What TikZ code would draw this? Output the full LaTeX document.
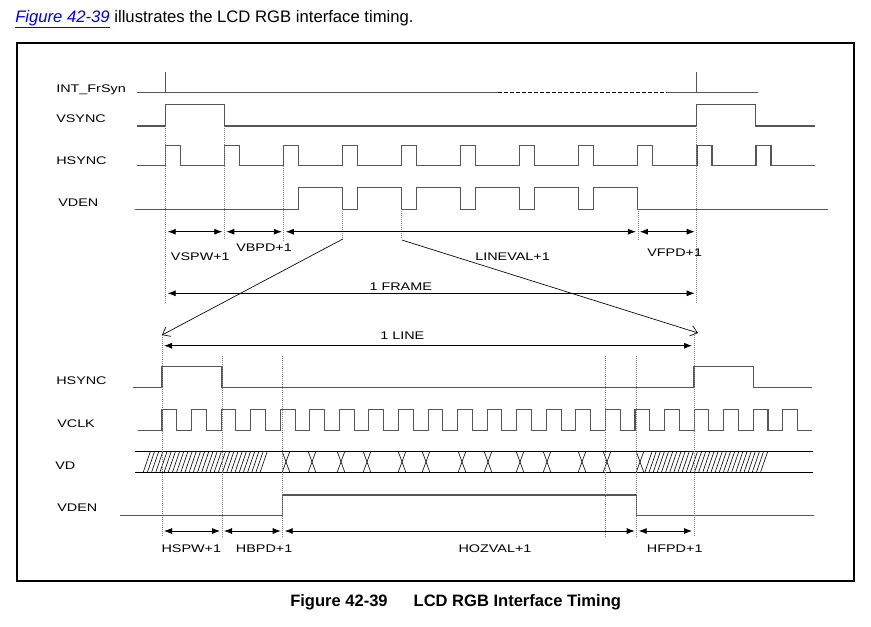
\documentclass[tikz,border=0pt]{standalone}
\usepackage{fontspec}
\setmainfont{Liberation Sans}
\newfontfamily\sigfont[FakeStretch=1.3]{Liberation Sans}
\usetikzlibrary{arrows.meta}
\definecolor{wavegray}{RGB}{85,85,85}
\definecolor{linkblue}{RGB}{0,0,238}
\begin{document}
\begin{tikzpicture}[x=0.75pt,y=-0.75pt,
  wave/.style = {draw=wavegray, line width=0.8pt},
  tick/.style = {draw=gray, densely dotted, line width=0.5pt},
  hatch/.style = {draw=black, line width=0.45pt},
  dimarrow/.style = {{Latex[length=6pt,width=4.5pt]}-{Latex[length=6pt,width=4.5pt]}, line width=0.6pt, shorten <=1.5pt, shorten >=1.5pt},
  fanarrow/.style = {-{Straight Barb[length=5pt,width=8pt]}, line width=0.5pt},
  siglabel/.style = {anchor=base west, inner sep=0pt, font=\sigfont\fontsize{8.3pt}{10pt}\selectfont}]
\useasboundingbox (0,0) rectangle (871,626);
\node [anchor=base west, inner sep=0pt, font=\fontsize{12.5pt}{15pt}\selectfont] (intro) at (15,22)
  {\textcolor{linkblue}{\underline{\textit{Figure 42-39}}} illustrates the LCD RGB interface timing.};
\draw [line width=1.5pt] (17,43) rectangle (854,581);

% frame timing
\node [siglabel] (frsyn) at (56,92.3) {INT\_FrSyn};
\node [siglabel] (vsync) at (56,122.3) {VSYNC};
\node [siglabel] (hsynctop) at (56,164.3) {HSYNC};
\node [siglabel] (vdentop) at (58,206.7) {VDEN};

\draw [wave] (136.7,92.7) -- (498,92.7);
\draw [wave, draw=black, line width=1pt, dash pattern=on 3pt off 1.5pt] (498,92.7) -- (667,92.7);
\draw [wave] (667,92.7) -- (758,92.7);
\draw [wave] (165.7,92.7) -- (165.7,72);
\draw [wave] (696.7,92.7) -- (696.7,72);

\draw [wave] (136.7,126) -| (165.7,104.3) -| (224.3,126) -| (696.7,104.3) -| (755.7,126) -- (815,126);

\draw [wave] (136.7,165.7) foreach \k in {0,...,10}{
  -- ({165.7+59.03*\k},165.7) -- ++(0,-20) -- ++(15,0) -- ++(0,20)} -- (815,165.7);

\draw [wave] (134.7,209.3) -- (298.8,209.3) -- (298.8,187.3) foreach \k in {3,...,7}{
  -- ({165.7+59.03*\k},187.3) -- ++(0,22) -- ++(15,0) -- ++(0,-22)} -- (637.9,187.3) -- (637.9,209.3) -- (827.7,209.3);

\draw [tick] (165.7,126) -- (165.7,303);
\draw [tick] (224.3,126) -- (224.3,240);
\draw [tick] (283.8,165.7) -- (283.8,240);
\draw [tick] (342.8,209.3) -- (342.8,239);
\draw [tick] (401.8,209.3) -- (401.8,239);
\draw [tick] (637.9,209.3) -- (637.9,240);
\draw [tick] (696.7,126) -- (696.7,303);

\foreach \n/\x in {0/165.7,1/224.3,2/283.8,3/637.9,4/696.7}
  \coordinate (fr\n) at (\x,231.7);
\draw [dimarrow] (fr0) -- (fr1);
\draw [dimarrow] (fr1) -- (fr2);
\draw [dimarrow] (fr2) -- (fr3);
\draw [dimarrow] (fr3) -- (fr4);
\node [siglabel] (vspw) at (170.7,260) {VSPW+1};
\node [siglabel] (vbpd) at (236,251.7) {VBPD+1};
\node [siglabel] (lineval) at (475,260) {LINEVAL+1};
\node [siglabel] (vfpd) at (647,256) {VFPD+1};

\coordinate (frameL) at (165.7,293.3);
\coordinate (frameR) at (696.7,293.3);
\draw [dimarrow] (frameL) -- (frameR);
\node [siglabel] (frame) at (369.3,290) {1 FRAME};

% zoom into one line
\coordinate (lineA) at (342.8,239);
\coordinate (lineB) at (401.8,240);
\coordinate (lineL) at (162,335);
\coordinate (lineR) at (698,333);
\draw [fanarrow] (lineA) -- (lineL);
\draw [fanarrow] (lineB) -- (lineR);

\coordinate (oneL) at (162,345.7);
\coordinate (oneR) at (694,345.7);
\draw [dimarrow] (oneL) -- (oneR);
\node [siglabel] (oneline) at (380,339.3) {1 LINE};

% line timing
\node [siglabel] (hsyncbot) at (56,384) {HSYNC};
\node [siglabel] (vclk) at (57,427.3) {VCLK};
\node [siglabel] (vd) at (55,469.3) {VD};
\node [siglabel] (vdenbot) at (57,511.7) {VDEN};

\draw [wave] (133.3,387.7) -| (162,366.7) -| (222,387.7) -| (694,366.7) -| (753.3,387.7) -- (812.3,387.7);

\draw [wave] (138.3,430.7) foreach \k in {0,...,21}{
  -- ({162+29.56*\k},430.7) -- ++(0,-21.4) -- ++(14.8,0) -- ++(0,21.4)} -- (812,430.7);

\draw [wave, draw=black, line width=0.7pt] (134.7,451.7) -- (813.3,451.7);
\draw [wave, draw=black, line width=0.7pt] (134.7,472) -- (813.3,472);
\foreach \i in {0,...,28}{
  \draw [hatch] ({143.3+4.175*\i},472) -- ++(7,-20.3);
  \draw [hatch] ({645+4.13*\i},472) -- ++(7,-20.3);
}
\foreach \c in {286,312,341,367,402,426,462,488,520,547,582,607,640}{
  \draw [hatch] (\c-3.7,451.7) -- (\c+3.7,472);
  \draw [hatch] (\c-3.7,472) -- (\c+3.7,451.7);
}

\draw [wave] (120,515.7) -- (282.7,515.7) -- (282.7,495) -- (636.7,495) -- (636.7,515.7) -- (814.3,515.7);

\draw [tick] (162,335) -- (162,537);
\draw [tick] (222,356) -- (222,537);
\draw [tick] (282.7,356) -- (282.7,537);
\draw [tick] (605.7,356) -- (605.7,537);
\draw [tick] (636.7,356) -- (636.7,537);
\draw [tick] (694,333) -- (694,537);

\foreach \n/\x in {0/162,1/222,2/282.7,3/636.7,4/694}
  \coordinate (ln\n) at (\x,531);
\draw [dimarrow] (ln0) -- (ln1);
\draw [dimarrow] (ln1) -- (ln2);
\draw [dimarrow] (ln2) -- (ln3);
\draw [dimarrow] (ln3) -- (ln4);
\node [siglabel] (hspw) at (161.3,552.3) {HSPW+1};
\node [siglabel] (hbpd) at (235.7,552.3) {HBPD+1};
\node [siglabel] (hozval) at (458.3,552.3) {HOZVAL+1};
\node [siglabel] (hfpd) at (646.7,552.3) {HFPD+1};

\node [anchor=base west, inner sep=0pt, font=\bfseries\fontsize{12.4pt}{15pt}\selectfont] (caption) at (290,606.7)
  {Figure 42-39\hspace{19.5pt}LCD RGB Interface Timing};
\end{tikzpicture}
\end{document}
